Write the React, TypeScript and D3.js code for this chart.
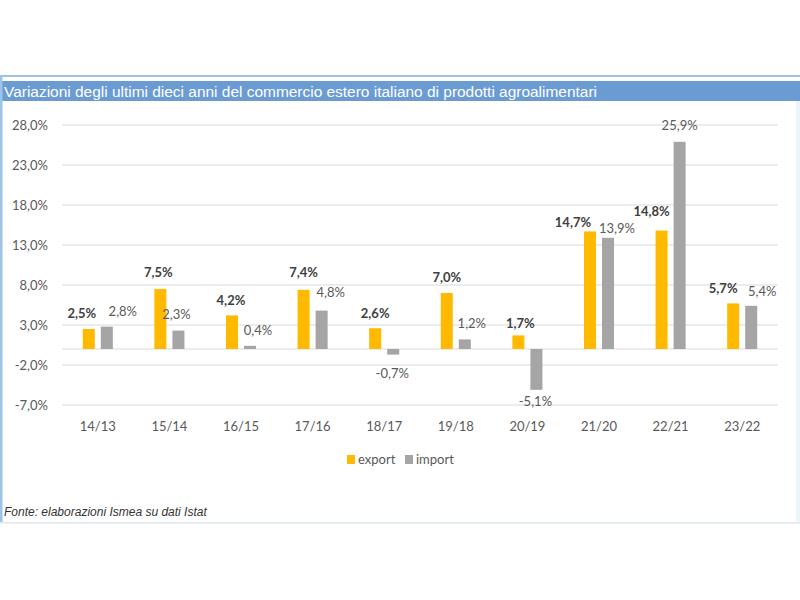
import React from "react";
import * as d3 from "d3";

const categories = ["14/13", "15/14", "16/15", "17/16", "18/17", "19/18", "20/19", "21/20", "22/21", "23/22"];
const exportValues = [2.5, 7.5, 4.2, 7.4, 2.6, 7.0, 1.7, 14.7, 14.8, 5.7];
const importValues = [2.8, 2.3, 0.4, 4.8, -0.7, 1.2, -5.1, 13.9, 25.9, 5.4];
const yTicks = [-7, -2, 3, 8, 13, 18, 23, 28];
const seriesNames = ["export", "import"];

// manual label nudges (as in the original chart) : [dx, dy]
const exportLabelNudge = [[-7, -11], [-2, -12], [-1, -10], [0, -13], [0, -10], [0, -11], [2, -7], [-17, -4], [-10, -15], [-10, -10]];
const importLabelNudge = [[16, -11], [-2, -12], [8, -11], [9, -14], [-1, 23], [7, -11], [-1, 16], [9, -5], [0, -12], [11, -10]];

const COLORS = { export: "#FFBA00", import: "#A5A5A5" };
const fmt = (v: number, dec = 1) => v.toFixed(dec).replace(".", ",") + "%";

export default function App() {
  const W = 800, H = 600;
  const x = d3.scaleBand<string>().domain(categories).range([62, 778]).paddingInner(0.58).paddingOuter(0.29);
  const xs = d3.scaleBand<string>().domain(seriesNames).range([0, x.bandwidth()]).paddingInner(1 / 3);
  const y = d3.scaleLinear().domain([-7, 28]).range([405, 125]);
  const font = "Lato, 'Open Sans', sans-serif";

  const bars: any[] = [];
  const labels: any[] = [];
  categories.forEach((c, i) => {
    [exportValues[i], importValues[i]].forEach((v, s) => {
      const name = seriesNames[s];
      const bx = (x(c) as number) + (xs(name) as number);
      const y0 = y(Math.max(0, v));
      const y1 = y(Math.min(0, v));
      bars.push(<rect key={c + name} x={bx} y={y0} width={xs.bandwidth()} height={y1 - y0} fill={(COLORS as any)[name]} />);
      const nudge = s === 0 ? exportLabelNudge[i] : importLabelNudge[i];
      const ly = v >= 0 ? y0 + nudge[1] : y1 + nudge[1];
      labels.push(
        <text key={"l" + c + name} x={bx + xs.bandwidth() / 2 + nudge[0]} y={ly} textAnchor="middle"
          fontSize={13} fontFamily={font} fontWeight={s === 0 ? 700 : 400} fill={s === 0 ? "#404040" : "#595959"}>
          {fmt(v)}
        </text>
      );
    });
  });

  return (
    <svg width={W} height={H} style={{ position: "absolute", left: 0, top: 0, background: "#fff" }}>
      {/* frame */}
      <rect x={0} y={75} width={800} height={2} fill="#9DC3E6" />
      <rect x={0} y={81} width={800} height={20} fill="#6A9BD3" />
      <rect x={0} y={75} width={2.5} height={448} fill="#9DC3E6" />
      <rect x={796} y={101} width={4} height={422} fill="#EAF6FB" />
      <rect x={0} y={522} width={800} height={1.5} fill="#DCE8EE" />
      <text x={4} y={97} fill="#fff" fontSize={15.5} fontFamily="'Liberation Sans', Arial, sans-serif" textLength={593} lengthAdjust="spacingAndGlyphs">
        Variazioni degli ultimi dieci anni del commercio estero italiano di prodotti agroalimentari
      </text>

      {/* grid */}
      {yTicks.map((t) => (
        <g key={t}>
          <line x1={62} x2={778} y1={y(t)} y2={y(t)} stroke="#D9D9D9" strokeWidth={1.2} />
          <text x={48} y={y(t) + 4.5} textAnchor="end" fontSize={13} fontFamily={font} fill="#595959">{fmt(t)}</text>
        </g>
      ))}
      <line x1={62} x2={778} y1={y(0)} y2={y(0)} stroke="#D9D9D9" strokeWidth={1.2} />

      {bars}
      {labels}

      {categories.map((c) => (
        <text key={"x" + c} x={(x(c) as number) + x.bandwidth() / 2} y={431} textAnchor="middle" fontSize={13} fontFamily={font} fill="#595959">{c}</text>
      ))}

      {/* legend */}
      <rect x={347} y={455} width={8} height={9} fill={COLORS.export} />
      <text x={358} y={464} fontSize={13} fontFamily={font} fill="#595959">export</text>
      <rect x={405} y={455} width={8} height={9} fill={COLORS.import} />
      <text x={416} y={464} fontSize={13} fontFamily={font} fill="#595959">import</text>

      <text x={4} y={516} fontSize={12} fontStyle="italic" fontFamily="'Liberation Sans', Arial, sans-serif" fill="#333">
        Fonte: elaborazioni Ismea su dati Istat
      </text>
    </svg>
  );
}
